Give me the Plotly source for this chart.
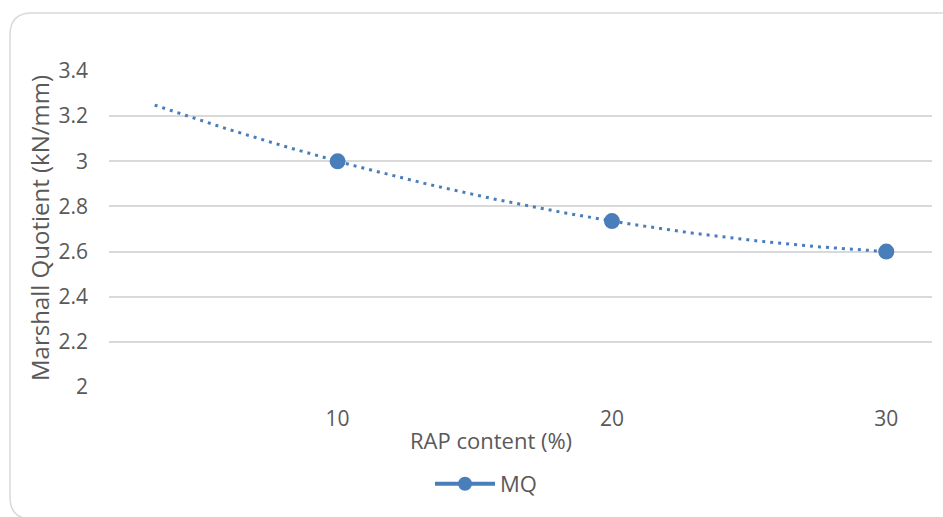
import numpy as np
import plotly.graph_objects as go

# Marshall quotient vs RAP content
rap_content = [10, 20, 30]
mq_values = [3.0, 2.735, 2.6]
y_ticks = [2, 2.2, 2.4, 2.6, 2.8, 3, 3.2, 3.4]
y_tick_text = ["2", "2.2", "2.4", "2.6", "2.8", "3", "3.2", "3.4"]

BLUE = "#4a7ebb"
GRID = "#d9d9d9"
TEXT = "#595959"
FONT = "Open Sans"

W, H = 943, 517
ML, MR, MT, MB = 109, 11, 71, 130
PW, PH = W - ML - MR, H - MT - MB


def px_x(p):
    return (p - ML) / PW


def px_y(p):
    return (H - MB - p) / PH


# second-order polynomial trendline, forecast backward from the first point
coef = np.polyfit(rap_content, mq_values, 2)
trend_x = np.linspace(10 - 6.67, 30, 200)
trend_y = np.polyval(coef, trend_x)

fig = go.Figure()
fig.add_trace(go.Scatter(
    x=trend_x, y=trend_y, mode="lines",
    line=dict(color=BLUE, width=3, dash="3px,5px"),
    showlegend=False, hoverinfo="skip",
))
fig.add_trace(go.Scatter(
    x=rap_content, y=mq_values, mode="markers",
    marker=dict(color=BLUE, size=16),
    showlegend=False, name="MQ",
))
# legend entry drawn as line + marker
fig.add_trace(go.Scatter(
    x=[None], y=[None], mode="lines+markers", name="MQ",
    line=dict(color=BLUE, width=4),
    marker=dict(color=BLUE, size=14),
))

# rounded chart frame
x0, y0 = px_x(10), px_y(13)
x1, y1 = px_x(975), px_y(519)
rx, ry = 22 / PW, 22 / PH
path = (
    f"M {x0 + rx},{y0} L {x1 - rx},{y0} Q {x1},{y0} {x1},{y0 - ry} "
    f"L {x1},{y1 + ry} Q {x1},{y1} {x1 - rx},{y1} "
    f"L {x0 + rx},{y1} Q {x0},{y1} {x0},{y1 + ry} "
    f"L {x0},{y0 - ry} Q {x0},{y0} {x0 + rx},{y0} Z"
)
fig.add_shape(type="path", path=path, xref="paper", yref="paper",
              line=dict(color=GRID, width=1.5), layer="below")

fig.add_annotation(
    text="Marshall Quotient (kN/mm)", textangle=-90,
    x=px_x(39), y=px_y(228), xref="paper", yref="paper",
    xanchor="center", yanchor="middle",
    showarrow=False, font=dict(family=FONT, size=24, color=TEXT),
)
fig.add_annotation(
    text="RAP content (%)",
    x=px_x(491), y=px_y(440), xref="paper", yref="paper",
    xanchor="center", yanchor="middle",
    showarrow=False, font=dict(family=FONT, size=22, color=TEXT),
)

fig.update_layout(
    width=W, height=H,
    margin=dict(l=ML, r=MR, t=MT, b=MB),
    paper_bgcolor="white", plot_bgcolor="white",
    font=dict(family=FONT, color=TEXT),
    legend=dict(
        orientation="h", x=px_x(486), y=px_y(484),
        xanchor="center", yanchor="middle",
        font=dict(family=FONT, size=22, color=TEXT),
        itemwidth=60,
    ),
    xaxis=dict(
        range=[5 / 3, 95 / 3], tickvals=rap_content,
        ticktext=[str(v) for v in rap_content],
        showgrid=False, zeroline=False, showline=False,
        tickfont=dict(family=FONT, size=21, color=TEXT),
        ticklabelstandoff=17,
    ),
    yaxis=dict(
        range=[2, 3.4], tickvals=y_ticks, ticktext=y_tick_text,
        showgrid=True, gridcolor=GRID, gridwidth=1.5,
        zeroline=False, showline=False,
        tickfont=dict(family=FONT, size=21, color=TEXT),
        ticklabelstandoff=20,
    ),
)

fig.write_html("out.html")
